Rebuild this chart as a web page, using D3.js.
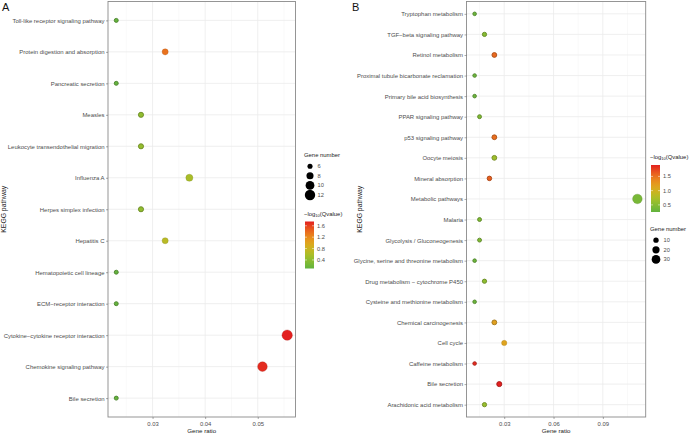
<!DOCTYPE html>
<html><head><meta charset="utf-8">
<script src="https://cdn.jsdelivr.net/npm/d3@7"></script>
<style>
html,body{margin:0;padding:0;background:#fff;}
svg{display:block;font-family:"Liberation Sans",Arial,Helvetica,sans-serif;}
</style></head>
<body><svg id="chart" width="692" height="434"></svg>
<script>
// ---------- Panel A data ----------
const pathwaysA = ["Toll-like receptor signaling pathway","Protein digestion and absorption","Pancreatic secretion","Measles","Leukocyte transendothelial migration","Influenza A","Herpes simplex infection","Hepatitis C","Hematopoietic cell lineage","ECM\u2212receptor interaction","Cytokine\u2212cytokine receptor interaction","Chemokine signaling pathway","Bile secretion"];
const geneRatioA = [0.0231,0.0324,0.0231,0.0278,0.0278,0.0370,0.0278,0.0324,0.0231,0.0231,0.0556,0.0509,0.0231];
const geneCountA = [5,7,5,6,6,8,6,7,5,5,12,11,5];
const qScoreA = [0.12,1.35,0.12,0.42,0.45,0.58,0.42,0.68,0.12,0.12,1.75,1.70,0.12];
const xTicksA = [0.03,0.04,0.05];
const sizeLegendA = [6,8,10,12];
const colorTicksA = [0.4,0.8,1.2,1.6];
const colorRangeA = [0.1,1.75];

// ---------- Panel B data ----------
const pathwaysB = ["Tryptophan metabolism","TGF\u2212beta signaling pathway","Retinol metabolism","Proximal tubule bicarbonate reclamation","Primary bile acid biosynthesis","PPAR signaling pathway","p53 signaling pathway","Oocyte meiosis","Mineral absorption","Metabolic pathways","Malaria","Glycolysis / Gluconeogenesis","Glycine, serine and threonine metabolism","Drug metabolism \u2212 cytochrome P450","Cysteine and methionine metabolism","Chemical carcinogenesis","Cell cycle","Caffeine metabolism","Bile secretion","Arachidonic acid metabolism"];
const geneRatioB = [0.012,0.018,0.024,0.012,0.012,0.015,0.024,0.024,0.021,0.111,0.015,0.015,0.012,0.018,0.012,0.024,0.030,0.012,0.027,0.018];
const geneCountB = [4,6,8,4,4,5,8,8,7,37,5,5,4,6,4,8,10,4,9,6];
const qScoreB = [0.32,0.50,1.55,0.32,0.32,0.45,1.52,0.66,1.60,0.40,0.45,0.45,0.32,0.55,0.32,1.18,1.15,1.85,1.90,0.62];
const xTicksB = [0.03,0.06,0.09];
const sizeLegendB = [10,20,30];
const colorTicksB = [0.5,1.0,1.5];
const colorRangeB = [0.25,1.9];

const colorStops = ["#62b23e","#9dc42a","#e2b01c","#ec7a1e","#e3201f"];
const interp = d3.interpolateRgbBasis(colorStops);

const svg = d3.select("#chart");
const defs = svg.append("defs");

function drawPanel(cfg){
  const g = svg.append("g");
  const x = d3.scaleLinear().domain(cfg.xDomain).range([cfg.left, cfg.right]);
  const y = d3.scalePoint().domain(cfg.pathways).range([cfg.top, cfg.bottom]).padding(0.6);
  const cnorm = d3.scaleLinear().domain(cfg.colorRange).range([0,1]).clamp(true);
  const col = v => interp(cnorm(v));
  const cmin = d3.min(cfg.counts), cmax = d3.max(cfg.counts);
  const r = d3.scaleLinear().domain([Math.sqrt(cmin), Math.sqrt(cmax)]).range(cfg.rRange);
  const rad = c => r(Math.sqrt(c));

  g.append("rect").attr("x",cfg.left).attr("y",cfg.top).attr("width",cfg.right-cfg.left).attr("height",cfg.bottom-cfg.top).attr("fill","#fff");
  const step = cfg.xTicks[1]-cfg.xTicks[0];
  const minors = [];
  for(let v = cfg.xTicks[0]-step/2; v <= cfg.xDomain[1]; v += step){ if(v>=cfg.xDomain[0]) minors.push(v); }
  g.selectAll(".minor").data(minors).join("line")
    .attr("x1",d=>x(d)).attr("x2",d=>x(d)).attr("y1",cfg.top).attr("y2",cfg.bottom)
    .attr("stroke","#f2f2f2").attr("stroke-width",0.5);
  g.selectAll(".vmaj").data(cfg.xTicks).join("line")
    .attr("x1",d=>x(d)).attr("x2",d=>x(d)).attr("y1",cfg.top).attr("y2",cfg.bottom)
    .attr("stroke","#ebebeb").attr("stroke-width",0.8);
  g.selectAll(".hmaj").data(cfg.pathways).join("line")
    .attr("x1",cfg.left).attr("x2",cfg.right).attr("y1",d=>y(d)).attr("y2",d=>y(d))
    .attr("stroke","#ebebeb").attr("stroke-width",0.8);

  const data = cfg.pathways.map((p,i)=>({p, ratio:cfg.ratios[i], count:cfg.counts[i], q:cfg.q[i]}));
  g.selectAll(".pt").data(data).join("circle")
    .attr("cx",d=>x(d.ratio)).attr("cy",d=>y(d.p)).attr("r",d=>rad(d.count))
    .attr("fill",d=>col(d.q))
    .attr("stroke",d=>d3.color(col(d.q)).darker(0.9))
    .attr("stroke-width",d=>rad(d.count)<2.6?0.9:0.3);

  g.append("rect").attr("x",cfg.left).attr("y",cfg.top).attr("width",cfg.right-cfg.left).attr("height",cfg.bottom-cfg.top)
    .attr("fill","none").attr("stroke","#8a8a8a").attr("stroke-width",0.9);

  const ya = d3.axisLeft(y).tickSize(2).tickPadding(1.5);
  const yg = g.append("g").attr("transform",`translate(${cfg.left},0)`).call(ya);
  yg.select(".domain").remove();
  yg.selectAll(".tick line").attr("stroke","#555").attr("stroke-width",0.5);
  yg.selectAll(".tick text").attr("fill","#4d4d4d").attr("font-size",cfg.fs).attr("font-family",null);

  const xa = d3.axisBottom(x).tickValues(cfg.xTicks).tickFormat(d3.format(".2f")).tickSize(2).tickPadding(2.5);
  const xg = g.append("g").attr("transform",`translate(0,${cfg.bottom})`).call(xa);
  xg.select(".domain").remove();
  xg.selectAll(".tick line").attr("stroke","#555").attr("stroke-width",0.5);
  xg.selectAll(".tick text").attr("fill","#4d4d4d").attr("font-size",5.9).attr("font-family",null);

  g.append("text").attr("x",(cfg.left+cfg.right)/2).attr("y",432.5).attr("text-anchor","middle")
    .attr("font-size",6.2).attr("fill","#222").text("Gene ratio");
  g.append("text").attr("transform",`translate(${cfg.yTitleX},${(cfg.top+cfg.bottom)/2}) rotate(-90)`)
    .attr("text-anchor","middle").attr("font-size",6.8).attr("fill","#222").text("KEGG pathway");
  g.append("text").attr("x",cfg.letterX).attr("y",11).attr("font-size",11).attr("fill","#111").text(cfg.letter);

  const sl = g.append("g");
  sl.append("text").attr("x",cfg.sizeLeg.x).attr("y",cfg.sizeLeg.y).attr("font-size",5.9).attr("fill","#222").text("Gene number");
  cfg.sizeVals.forEach((v,i)=>{
    const cy = cfg.sizeLeg.y + 9.7 + i*cfg.sizeLeg.dy;
    sl.append("circle").attr("cx",cfg.sizeLeg.x+6).attr("cy",cy).attr("r",rad(v)).attr("fill","#000");
    sl.append("text").attr("x",cfg.sizeLeg.x+13.5).attr("y",cy+2).attr("font-size",5.7).attr("fill","#4d4d4d").text(v);
  });

  const cl = g.append("g");
  const t = cl.append("text").attr("x",cfg.colLeg.x).attr("y",cfg.colLeg.y).attr("font-size",5.9).attr("fill","#222");
  t.append("tspan").text("\u2212log");
  t.append("tspan").attr("font-size",4).attr("dy",1.4).text("10");
  t.append("tspan").attr("dy",-1.4).text("(Qvalue)");
  const barX = cfg.colLeg.x+1, barW = 9, barTop = cfg.colLeg.y+6, barH = 47;
  const gid = "grad"+cfg.letter;
  const grad = defs.append("linearGradient").attr("id",gid).attr("x1",0).attr("x2",0).attr("y1",1).attr("y2",0);
  d3.range(0,1.0001,0.05).forEach(s=>grad.append("stop").attr("offset",s).attr("stop-color",interp(s)));
  cl.append("rect").attr("x",barX).attr("y",barTop).attr("width",barW).attr("height",barH).attr("fill",`url(#${gid})`);
  const cy = d3.scaleLinear().domain(cfg.colorRange).range([barTop+barH, barTop]);
  cfg.colorTicks.forEach(v=>{
    cl.append("line").attr("x1",barX).attr("x2",barX+2).attr("y1",cy(v)).attr("y2",cy(v)).attr("stroke","#fff").attr("stroke-width",0.5);
    cl.append("line").attr("x1",barX+barW-2).attr("x2",barX+barW).attr("y1",cy(v)).attr("y2",cy(v)).attr("stroke","#fff").attr("stroke-width",0.5);
    cl.append("text").attr("x",barX+barW+3).attr("y",cy(v)+2).attr("font-size",5.7).attr("fill","#4d4d4d")
      .text(d3.format(".1f")(v));
  });
}

drawPanel({
  letter:"A", letterX:2, pathways:pathwaysA, ratios:geneRatioA, counts:geneCountA, q:qScoreA,
  xDomain:[0.02153,0.05718], left:108, right:295.5, top:1.5, bottom:417,
  xTicks:xTicksA, colorRange:colorRangeA, colorTicks:colorTicksA, rRange:[2.0,5.2],
  fs:5.95, yTitleX:6,
  sizeVals:sizeLegendA, sizeLeg:{x:304, y:156.5, dy:9.6},
  colLeg:{x:304, y:215.5}
});
drawPanel({
  letter:"B", letterX:352, pathways:pathwaysB, ratios:geneRatioB, counts:geneCountB, q:qScoreB,
  xDomain:[0.00706,0.11606], left:466.5, right:645.7, top:1.5, bottom:417,
  xTicks:xTicksB, colorRange:colorRangeB, colorTicks:colorTicksB, rRange:[1.8,4.8],
  fs:5.95, yTitleX:362,
  sizeVals:sizeLegendB, sizeLeg:{x:650, y:230.5, dy:9.6},
  colLeg:{x:650, y:159}
});
</script></body></html>
